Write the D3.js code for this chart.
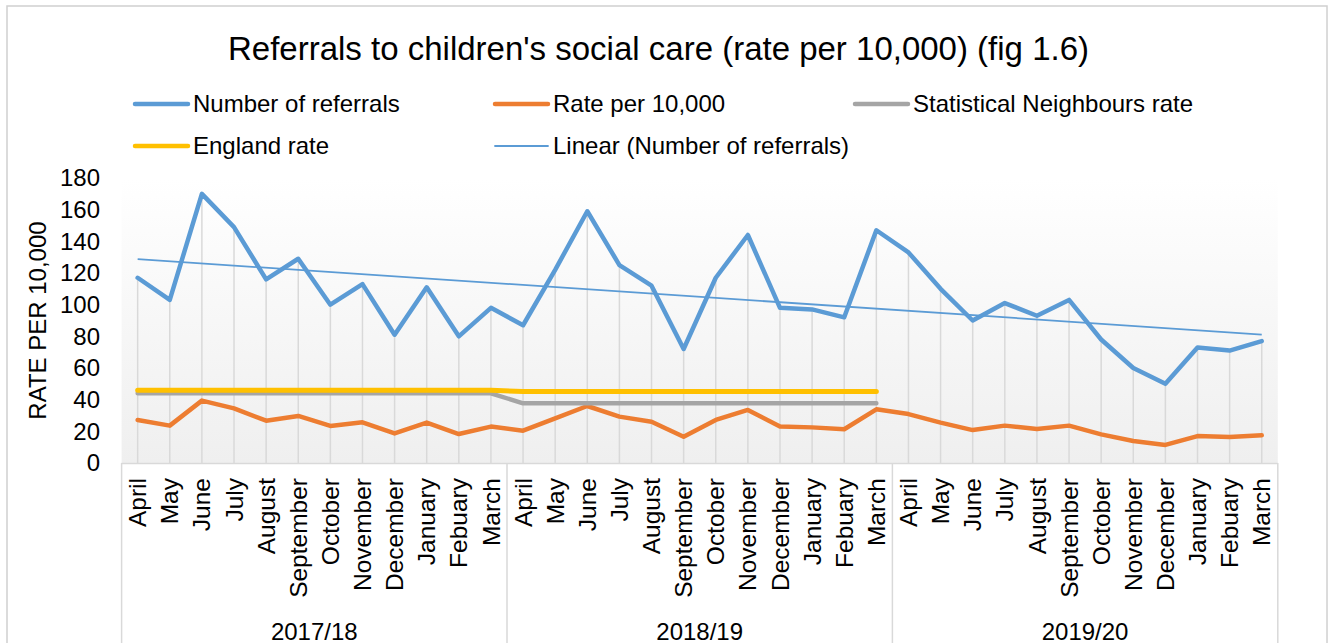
<!DOCTYPE html>
<html>
<head>
<meta charset="utf-8">
<script src="https://cdn.jsdelivr.net/npm/d3@7"></script>
<style>
  body { margin: 0; background: #fff; }
  svg { display: block; font-family: "Liberation Sans", Arial, sans-serif; }
</style>
</head>
<body>
<div id="chart"></div>
<script>
"use strict";

// == DATA ==
var years = ["2017/18", "2018/19", "2019/20"];
var months = ["April", "May", "June", "July", "August", "September", "October",
	"November", "December", "January", "Febuary", "March"];

var referrals = [117, 103, 170, 149, 116, 129, 100, 113, 81, 111, 80, 98,
	87, 122, 159, 125, 112, 72, 117, 144, 98, 97, 92, 147,
	133, 110, 90, 101, 93, 103, 78, 60, 50, 73, 71, 77];

var ratePer10k = [27.2, 23.6, 39.4, 34.5, 26.7, 29.7, 23.4, 25.7, 18.7, 25.5, 18.3, 23.0,
	20.4, 28.2, 36.0, 29.3, 26.1, 16.6, 27.2, 33.5, 23.0, 22.5, 21.3, 33.9,
	30.9, 25.5, 20.8, 23.6, 21.5, 23.6, 18.1, 13.9, 11.4, 17.0, 16.4, 17.5];

// only first two years have comparators
var statNeighbours = [44, 44, 44, 44, 44, 44, 44, 44, 44, 44, 44, 44,
	37.7, 37.7, 37.7, 37.7, 37.7, 37.7, 37.7, 37.7, 37.7, 37.7, 37.7, 37.7];
var englandRate = [45.9, 45.9, 45.9, 45.9, 45.9, 45.9, 45.9, 45.9, 45.9, 45.9, 45.9, 45.9,
	45.2, 45.2, 45.2, 45.2, 45.2, 45.2, 45.2, 45.2, 45.2, 45.2, 45.2, 45.2];

var yTicks = [0, 20, 40, 60, 80, 100, 120, 140, 160, 180];

var colors = {
	referrals: "#5B9BD5",
	rate: "#ED7D31",
	stat: "#A5A5A5",
	england: "#FFC000"
};

// == BOILERPLATE ==
var W = 1329, H = 643;
var plot = { left: 121.6, right: 1277.8, top: 178, bottom: 463 };

var svg = d3.select("#chart").append("svg")
	.attr("width", W)
	.attr("height", H);

// chart area border
svg.append("rect")
	.attr("x", 7).attr("y", 6)
	.attr("width", 1320).attr("height", H + 10)
	.attr("fill", "#fff")
	.attr("stroke", "#d0d0d0")
	.attr("stroke-width", 1.5);

var idx = d3.range(referrals.length);

var x = d3.scaleBand()
	.domain(idx)
	.range([plot.left, plot.right])
	.padding(0);
var cx = function (i) { return x(i) + x.bandwidth() / 2; };

var y = d3.scaleLinear()
	.domain([0, 180])
	.range([plot.bottom, plot.top]);

// plot area gradient (white at top -> light grey at bottom)
var grad = svg.append("defs").append("linearGradient")
	.attr("id", "plotbg")
	.attr("x1", 0).attr("y1", 0).attr("x2", 0).attr("y2", 1);
grad.append("stop").attr("offset", "0%").attr("stop-color", "#ffffff");
grad.append("stop").attr("offset", "100%").attr("stop-color", "#efefef");

svg.append("rect")
	.attr("x", plot.left).attr("y", plot.top)
	.attr("width", plot.right - plot.left)
	.attr("height", plot.bottom - plot.top)
	.attr("fill", "url(#plotbg)");

// drop lines from highest point down to the axis
svg.append("g").selectAll("line")
	.data(idx)
	.enter().append("line")
	.attr("x1", cx).attr("x2", cx)
	.attr("y1", function (i) {
		var vals = [referrals[i], ratePer10k[i]];
		if (statNeighbours[i] != null) vals.push(statNeighbours[i]);
		if (englandRate[i] != null) vals.push(englandRate[i]);
		return y(d3.max(vals));
	})
	.attr("y2", plot.bottom)
	.attr("stroke", "#d9d9d9")
	.attr("stroke-width", 1.5);

// category axis box
svg.append("line")
	.attr("x1", plot.left).attr("x2", plot.right)
	.attr("y1", plot.bottom + 0.5).attr("y2", plot.bottom + 0.5)
	.attr("stroke", "#d9d9d9").attr("stroke-width", 1.5);

var bounds = [0, 12, 24, 36].map(function (k) {
	return k < 36 ? x(k) : plot.right;
});
svg.append("g").selectAll("line")
	.data(bounds)
	.enter().append("line")
	.attr("x1", function (d) { return d; })
	.attr("x2", function (d) { return d; })
	.attr("y1", plot.bottom)
	.attr("y2", H)
	.attr("stroke", "#d9d9d9").attr("stroke-width", 1.5);

// month labels (rotated)
svg.append("g").selectAll("text")
	.data(idx)
	.enter().append("text")
	.attr("transform", function (i) { return "translate(" + cx(i) + ",478) rotate(-90)"; })
	.attr("dy", "0.35em")
	.attr("text-anchor", "end")
	.style("font-size", "24.5px")
	.attr("fill", "#000")
	.text(function (i) { return months[i % 12]; });

// year labels
svg.append("g").selectAll("text")
	.data(years)
	.enter().append("text")
	.attr("x", function (d, k) { return (bounds[k] + bounds[k + 1]) / 2; })
	.attr("y", 639.5)
	.attr("text-anchor", "middle")
	.style("font-size", "24px")
	.attr("fill", "#000")
	.text(function (d) { return d; });

// y axis
var yAxis = svg.append("g")
	.attr("transform", "translate(100,0)")
	.call(d3.axisLeft(y).tickValues(yTicks).tickSize(0).tickPadding(0));
yAxis.select(".domain").remove();
yAxis.selectAll("text")
	.style("font-size", "24px")
	.style("font-family", "'Liberation Sans', Arial, sans-serif")
	.attr("fill", "#000");

svg.append("text")
	.attr("transform", "translate(38," + ((plot.top + plot.bottom) / 2) + ") rotate(-90)")
	.attr("dy", "0.35em")
	.attr("text-anchor", "middle")
	.style("font-size", "24px")
	.attr("fill", "#000")
	.text("RATE PER 10,000");

// series
var line = d3.line()
	.defined(function (d) { return d != null; })
	.x(function (d, i) { return cx(i); })
	.y(function (d) { return y(d); });

var series = [
	{ values: referrals, color: colors.referrals, w: 4.5 },
	{ values: ratePer10k, color: colors.rate, w: 4.5 },
	{ values: statNeighbours, color: colors.stat, w: 4.5 },
	{ values: englandRate, color: colors.england, w: 5 }
];

series.forEach(function (s) {
	svg.append("path")
		.datum(s.values)
		.attr("d", line)
		.attr("fill", "none")
		.attr("stroke", s.color)
		.attr("stroke-width", s.w)
		.attr("stroke-linejoin", "round")
		.attr("stroke-linecap", "round");
});

// linear trendline on number of referrals (least squares, like excel)
var n = referrals.length;
var mx = d3.mean(idx), my = d3.mean(referrals);
var sxy = d3.sum(idx, function (i) { return (i - mx) * (referrals[i] - my); });
var sxx = d3.sum(idx, function (i) { return (i - mx) * (i - mx); });
var slope = sxy / sxx, icpt = my - slope * mx;

svg.append("line")
	.attr("x1", cx(0)).attr("y1", y(icpt))
	.attr("x2", cx(n - 1)).attr("y2", y(icpt + slope * (n - 1)))
	.attr("stroke", colors.referrals)
	.attr("stroke-width", 1.8);

// == LEGEND ==
var legendItems = [
	{ label: "Number of referrals", color: colors.referrals, w: 4.5, x: 135, y: 104 },
	{ label: "Rate per 10,000", color: colors.rate, w: 4.5, x: 495, y: 104 },
	{ label: "Statistical Neighbours rate", color: colors.stat, w: 4.5, x: 855, y: 104 },
	{ label: "England rate", color: colors.england, w: 4.5, x: 135, y: 146 },
	{ label: "Linear (Number of referrals)", color: colors.referrals, w: 1.8, x: 495, y: 146 }
];

var leg = svg.append("g").selectAll("g")
	.data(legendItems)
	.enter().append("g")
	.attr("transform", function (d) { return "translate(" + d.x + "," + d.y + ")"; });

leg.append("line")
	.attr("x1", 0).attr("x2", 53)
	.attr("stroke", function (d) { return d.color; })
	.attr("stroke-width", function (d) { return d.w; })
	.attr("stroke-linecap", "round");

leg.append("text")
	.attr("x", 58)
	.attr("dy", "0.35em")
	.style("font-size", "24px")
	.attr("fill", "#000")
	.text(function (d) { return d.label; });

// title
svg.append("text")
	.attr("x", 658.5)
	.attr("y", 59.5)
	.attr("text-anchor", "middle")
	.style("font-size", "33px")
	.attr("fill", "#000")
	.text("Referrals to children's social care (rate per 10,000) (fig 1.6)");
</script>
</body>
</html>
